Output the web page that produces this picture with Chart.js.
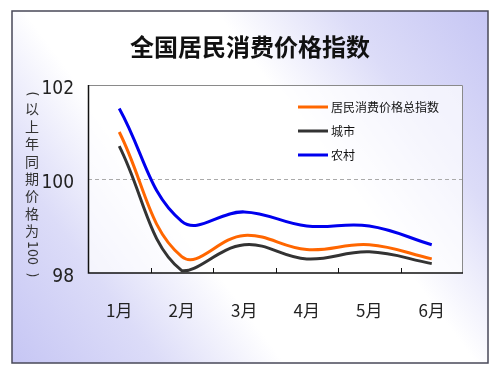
<!DOCTYPE html>
<html><head><meta charset="utf-8">
<script src="https://cdn.jsdelivr.net/npm/chart.js@4/dist/chart.umd.min.js"></script>
<style>html,body{margin:0;padding:0;background:#fff}#wrap{width:500px;height:375px}</style>
</head><body><div id="wrap"><canvas id="c" width="500" height="375"></canvas></div>
<script>
const categories = ['1月','2月','3月','4月','5月','6月'];
const seriesNames = ['居民消费价格总指数','城市','农村'];
const cpiTotal = [101.0, 98.35, 98.8, 98.5, 98.6, 98.3];
const cpiUrban = [100.7, 98.05, 98.6, 98.3, 98.45, 98.2];
const cpiRural = [101.5, 99.1, 99.3, 99.0, 99.0, 98.6];
const yTicks = [98, 100, 102];
const refLine = 100;
const chartTitle = '全国居民消费价格指数';
const yTitleParts = ['(', '以', '上', '年', '同', '期', '价', '格', '为', '100', ')'];
const seriesColors = ['#ff6600', '#333333', '#0000ee'];

const CJK = '"Noto Sans CJK SC", "Noto Sans", sans-serif';
const NARROW = '"Liberation Sans Narrow", "DejaVu Sans Condensed", "Liberation Sans", sans-serif';

const decor = {
  id: 'decor',
  beforeDraw(chart) {
    const ctx = chart.ctx, W = chart.width, H = chart.height, ca = chart.chartArea;
    ctx.save();
    ctx.fillStyle = '#fff';
    ctx.fillRect(0, 0, W, H);
    const fx0 = 12, fy0 = 11, fx1 = 488, fy1 = 363;
    const g = ctx.createLinearGradient(fx1, fy0, fx0, fy1);
    g.addColorStop(0, '#c6c6f4');
    g.addColorStop(0.2, '#dcdcf8');
    g.addColorStop(0.37, '#ffffff');
    g.addColorStop(0.63, '#ffffff');
    g.addColorStop(0.8, '#dcdcf8');
    g.addColorStop(1, '#c6c6f4');
    ctx.fillStyle = g;
    ctx.fillRect(fx0, fy0, fx1 - fx0, fy1 - fy0);
    ctx.strokeStyle = '#484858';
    ctx.lineWidth = 1.5;
    ctx.strokeRect(fx0, fy0, fx1 - fx0, fy1 - fy0);
    // plot area
    ctx.fillStyle = 'rgba(255,255,255,0.7)';
    ctx.fillRect(ca.left, ca.top, ca.right - ca.left, ca.bottom - ca.top);
    ctx.restore();
  },
  beforeDatasetsDraw(chart) {
    const ctx = chart.ctx, ca = chart.chartArea, x = chart.scales.x, y = chart.scales.y;
    ctx.save();
    const yr = Math.round(y.getPixelForValue(refLine)) + 0.5;
    ctx.strokeStyle = '#aaa';
    ctx.lineWidth = 1;
    ctx.setLineDash([4, 3]);
    ctx.beginPath(); ctx.moveTo(ca.left, yr); ctx.lineTo(ca.right, yr); ctx.stroke();
    ctx.setLineDash([]);
    ctx.strokeStyle = '#8a8a8a';
    ctx.beginPath();
    ctx.moveTo(ca.left, ca.top + 0.5); ctx.lineTo(ca.right - 0.5, ca.top + 0.5); ctx.lineTo(ca.right - 0.5, ca.bottom);
    ctx.stroke();
    ctx.strokeStyle = '#111';
    ctx.lineWidth = 1.5;
    ctx.beginPath();
    ctx.moveTo(ca.left + 0.5, ca.top); ctx.lineTo(ca.left + 0.5, ca.bottom); ctx.lineTo(ca.right, ca.bottom);
    ctx.stroke();
    ctx.lineWidth = 1;
    for (let i = 1; i < categories.length; i++) {
      const xp = Math.round((x.getPixelForValue(i - 1) + x.getPixelForValue(i)) / 2) + 0.5;
      ctx.beginPath(); ctx.moveTo(xp, ca.bottom); ctx.lineTo(xp, ca.bottom - 5); ctx.stroke();
    }
    ctx.restore();
  },
  afterDraw(chart) {
    const ctx = chart.ctx, ca = chart.chartArea;
    ctx.save();
    const ds = chart.data.datasets;
    const lx = ca.right - 165;
    ctx.font = '12px ' + CJK;
    ctx.textBaseline = 'middle';
    ctx.textAlign = 'left';
    ds.forEach((d, i) => {
      const ly = ca.top + 22 + i * 24;
      ctx.strokeStyle = d.borderColor;
      ctx.lineWidth = 3;
      ctx.beginPath(); ctx.moveTo(lx, ly); ctx.lineTo(lx + 30, ly); ctx.stroke();
      ctx.fillStyle = '#111';
      ctx.fillText(d.label, lx + 33, ly);
    });
    ctx.fillStyle = '#333';
    ctx.font = '14px ' + CJK;
    ctx.textAlign = 'center';
    ctx.textBaseline = 'middle';
    const cx = 32;
    const centers = [94, 109, 126.4, 143.8, 161.2, 178.6, 196, 213.4, 230.8, 253, 275];
    yTitleParts.forEach((t, i) => {
      const cy = centers[i] - 85 + ca.top;
      if (/^[\x00-\x7f]+$/.test(t)) {
        ctx.save();
        ctx.translate(cx, cy);
        ctx.rotate(Math.PI / 2);
        ctx.font = '14px ' + NARROW;
        ctx.fillText(t, 0, 0);
        ctx.restore();
      } else {
        ctx.fillText(t, cx, cy);
      }
    });
    ctx.restore();
  }
};

const mk = (label, data, color) => ({
  label, data, borderColor: color, backgroundColor: color,
  borderWidth: 3, pointRadius: 0, tension: 0.4, fill: false
});

new Chart(document.getElementById('c'), {
  type: 'line',
  data: {
    labels: categories,
    datasets: [
      mk(seriesNames[0], cpiTotal, seriesColors[0]),
      mk(seriesNames[1], cpiUrban, seriesColors[1]),
      mk(seriesNames[2], cpiRural, seriesColors[2])
    ]
  },
  options: {
    responsive: false,
    animation: false,
    devicePixelRatio: 1,
    layout: { padding: { top: 20, left: 37, right: 37, bottom: 0 } },
    plugins: {
      legend: { display: false },
      tooltip: { enabled: false },
      title: {
        display: true,
        text: chartTitle,
        color: '#111',
        font: { size: 24, weight: 'bold', family: CJK },
        padding: { top: 12, bottom: 24.2 }
      }
    },
    scales: {
      x: {
        offset: true,
        grid: { display: false, drawTicks: false },
        border: { display: false },
        ticks: { color: '#222', font: { size: 17, family: CJK }, padding: 27 },
        afterFit(s) { s.height = 102; }
      },
      y: {
        min: 98, max: 102,
        grid: { display: false, drawTicks: false },
        border: { display: false },
        afterBuildTicks(s) { s.ticks = yTicks.map(v => ({ value: v })); },
        ticks: { color: '#222', font: { size: 19, family: NARROW }, padding: 14, labelOffset: 4 },
        afterFit(s) { s.width = 51; }
      }
    }
  },
  plugins: [decor]
});
</script>
</body></html>
